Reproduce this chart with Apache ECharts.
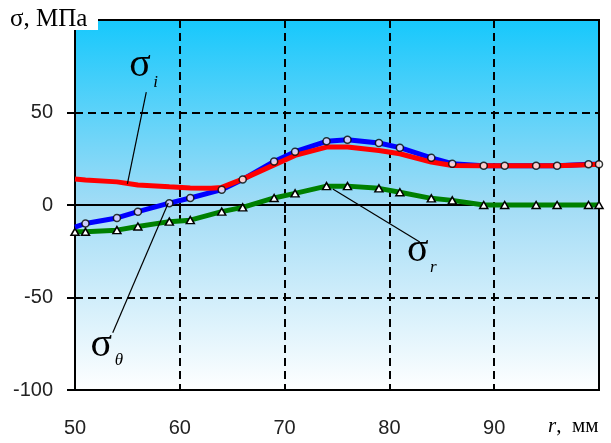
<!DOCTYPE html>
<html>
<head>
<meta charset="utf-8">
<script src="https://cdn.jsdelivr.net/npm/echarts@6/dist/echarts.min.js"></script>
<style>
    html, body { margin: 0; padding: 0; background: #fff; }
    #main { width: 611px; height: 443px; }
</style>
</head>
<body>
<div id="main"></div>
<script>
// 半径 r, мм
let rTheta = [50, 51, 54, 56, 59, 61, 64, 66, 69, 71, 74, 76, 79, 81, 84, 86, 89, 91, 94, 96, 99, 100];
// σθ (синяя линия, кружки)
let sigmaTheta = [-12, -10, -7, -3.6, 1, 3.8, 8.3, 13.8, 23.5, 28.8, 34.4, 35.3, 33.5, 31, 25.5, 22.3, 21.2, 21.2, 21.2, 21.2, 22, 22];
// σi (красная линия)
let rI = [50, 51, 54, 56, 59, 61, 63, 64, 66, 69, 71, 74, 76, 79, 81, 84, 86, 89, 91, 94, 96, 99, 100];
let sigmaI = [14, 13.5, 12.5, 10.8, 9.8, 9.2, 9, 9.5, 14, 21.7, 26.8, 31.3, 31.3, 29.5, 27.7, 23.2, 21.4, 21.2, 21.2, 21.2, 21.2, 21.8, 22];
// σr (зелёная линия, треугольники)
let rR = [50, 51, 54, 56, 59, 61, 64, 66, 69, 71, 74, 76, 79, 81, 84, 86, 89, 91, 94, 96, 99, 100];
let sigmaR = [-14.5, -14.5, -13.6, -11.6, -9, -8.2, -3.6, -1.3, 3.8, 6.3, 10.2, 10.2, 9, 6.9, 3.6, 2.5, 0, 0, 0, 0, 0, 0];
// подписи осей
let xTicks = [50, 60, 70, 80, 90];
let yTicks = [-100, -50, 0, 50];

function pairs(xs, ys) {
    let out = [];
    for (let i = 0; i < xs.length; i++) {
        out.push([xs[i], ys[i]]);
    }
    return out;
}

let chart = echarts.init(document.getElementById('main'));

let option = {
    animation: false,
    grid: {
        left: 75,
        right: 12,
        top: 20,
        bottom: 53,
        show: true,
        borderColor: '#000',
        borderWidth: 2,
        backgroundColor: new echarts.graphic.LinearGradient(0, 0, 0, 1, [
            {offset: 0, color: '#16c8fc'},
            {offset: 0.5, color: '#a2dcf6'},
            {offset: 1, color: '#ffffff'}
        ])
    },
    xAxis: {
        type: 'value',
        min: 50,
        max: 100,
        interval: 10,
        axisLine: {lineStyle: {color: '#000', width: 2}},
        axisTick: {show: true, length: 8, lineStyle: {color: '#000', width: 2}},
        axisLabel: {
            margin: 28,
            color: '#222',
            fontFamily: 'Liberation Sans',
            fontSize: 20,
            formatter: function (v) {
                return xTicks.indexOf(v) >= 0 ? String(v) : '';
            }
        },
        splitLine: {show: true, lineStyle: {color: '#000', width: 2, type: [8, 5]}}
    },
    yAxis: {
        type: 'value',
        min: -100,
        max: 100,
        interval: 50,
        axisLine: {show: true, lineStyle: {color: '#000', width: 2}},
        axisTick: {show: true, length: 8, lineStyle: {color: '#000', width: 2}},
        axisLabel: {
            margin: 22,
            color: '#222',
            fontFamily: 'Liberation Sans',
            fontSize: 20,
            formatter: function (v) {
                return yTicks.indexOf(v) >= 0 ? String(v) : '';
            }
        },
        splitLine: {show: true, lineStyle: {color: '#000', width: 2, type: [8, 5]}}
    },
    series: [
        {
            name: 'σr',
            type: 'line',
            data: pairs(rR, sigmaR),
            symbol: 'triangle',
            symbolSize: [8, 7],
            itemStyle: {color: '#fff', borderColor: '#000', borderWidth: 1.5},
            lineStyle: {color: '#008000', width: 5},
            z: 3
        },
        {
            name: 'σθ',
            type: 'line',
            data: pairs(rTheta, sigmaTheta),
            symbol: 'none',
            lineStyle: {color: '#0000ff', width: 5},
            z: 4
        },
        {
            name: 'σi',
            type: 'line',
            data: pairs(rI, sigmaI),
            symbol: 'none',
            lineStyle: {color: '#ff0000', width: 5},
            z: 5
        },
        {
            name: 'σθ точки',
            type: 'scatter',
            data: pairs(rTheta, sigmaTheta).slice(1),
            symbol: 'circle',
            symbolSize: 7,
            itemStyle: {color: '#fff', borderColor: '#000', borderWidth: 1.5},
            z: 6
        }
    ]
};
chart.setOption(option);

// выноски и подписи кривых, в координатах данных
let leaders = [
    [[56.8, 61], [55, 11.4]],
    [[53.6, -69], [58.9, 1.1]],
    [[74.6, 8.7], [82.9, -20]]
];
let labels = [
    {main: [56.2, 72], sub: [57.7, 66], subText: 'i'},
    {main: [52.5, -79], sub: [54.2, -84], subText: 'θ'},
    {main: [82.7, -28], sub: [84.2, -34], subText: 'r'}
];

function px(p) {
    return chart.convertToPixel({gridIndex: 0}, p);
}

let graphics = [];
leaders.forEach(function (l) {
    graphics.push({
        type: 'polyline',
        shape: {points: [px(l[0]), px(l[1])]},
        style: {stroke: '#000', lineWidth: 1.2, fill: null},
        z: 20
    });
});
labels.forEach(function (lb) {
    let m = px(lb.main);
    let s = px(lb.sub);
    graphics.push({
        type: 'text', x: m[0], y: m[1] - 6, z: 20,
        style: {text: 'σ', fontFamily: 'Liberation Serif', fontSize: 40, fill: '#000',
            align: 'center', textAlign: 'center', verticalAlign: 'middle', textVerticalAlign: 'middle'}
    });
    graphics.push({
        type: 'text', x: s[0], y: s[1], z: 20,
        style: {text: lb.subText, fontFamily: 'Liberation Serif', fontStyle: 'italic', fontSize: 17, fill: '#000',
            align: 'center', textAlign: 'center', verticalAlign: 'middle', textVerticalAlign: 'middle'}
    });
});
// заголовок оси Y на белой подложке
graphics.push({
    type: 'rect', shape: {x: 0, y: 0, width: 98, height: 30}, style: {fill: '#fff'}, z: 30
});
graphics.push({
    type: 'text', x: 10, y: 19, z: 31,
    style: {text: 'σ, МПа', fontFamily: 'Liberation Serif', fontSize: 25, fill: '#000',
        align: 'left', textAlign: 'left', verticalAlign: 'middle', textVerticalAlign: 'middle'}
});
// подпись оси X
graphics.push({
    type: 'text', x: 548, y: 426, z: 31,
    style: {
        text: '{i|r}{n|,  мм}',
        rich: {
            i: {fontFamily: 'Liberation Serif', fontStyle: 'italic', fontSize: 21, fill: '#000', color: '#000'},
            n: {fontFamily: 'Liberation Serif', fontSize: 21, fill: '#000', color: '#000'}
        },
        align: 'left', textAlign: 'left', verticalAlign: 'middle', textVerticalAlign: 'middle'
    }
});
chart.setOption({graphic: graphics});
</script>
</body>
</html>
